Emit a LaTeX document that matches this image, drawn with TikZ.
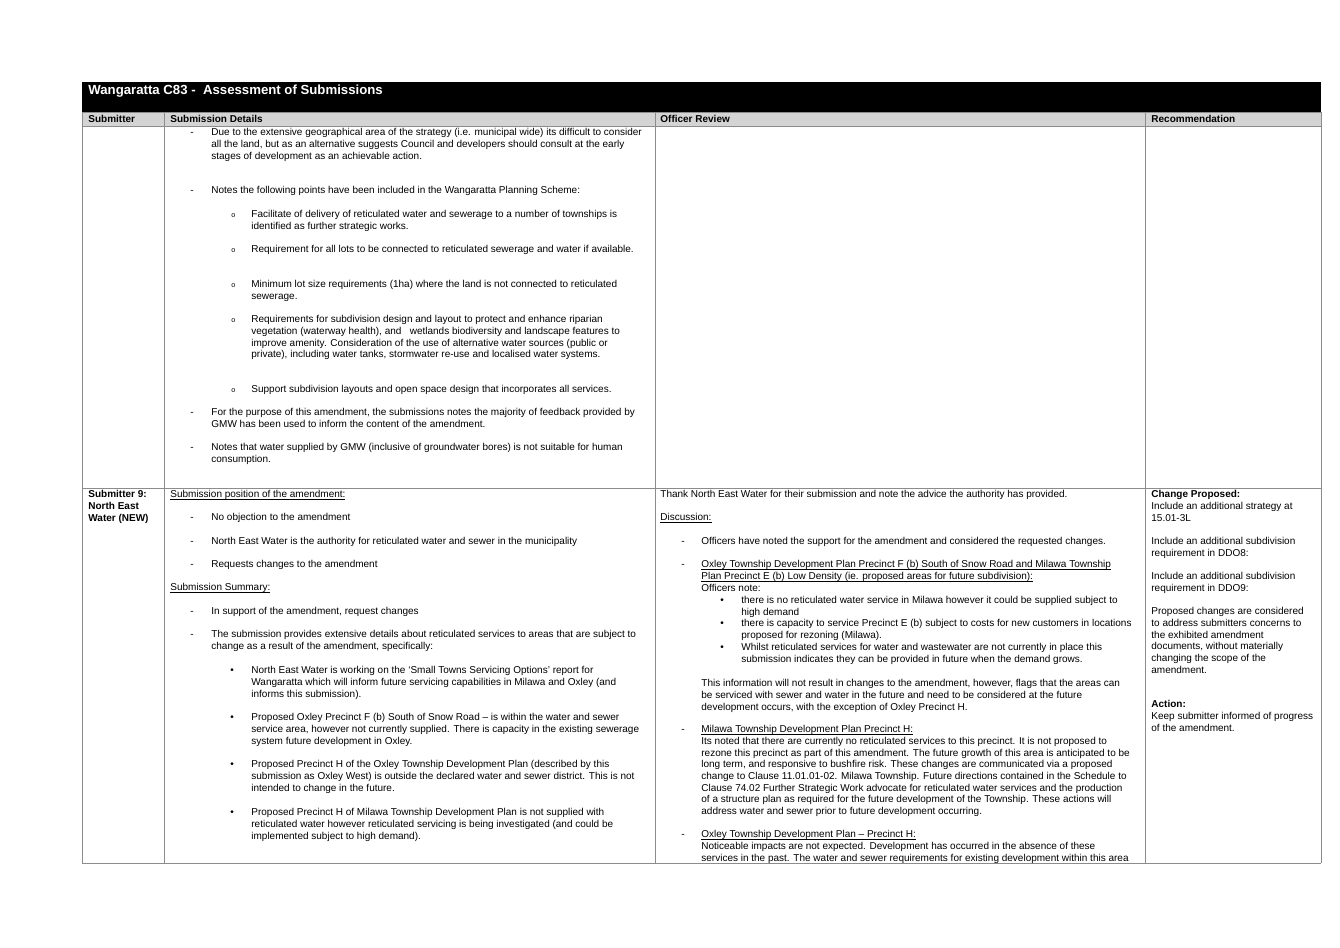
\documentclass[tikz,border=0pt]{standalone}
\usepackage{fontspec}
\setmainfont{Liberation Sans}
\usetikzlibrary{positioning}
\newcommand{\fs}{\fontsize{5.0}{5.85}\selectfont}
\newcommand{\ul}[1]{\setbox0\hbox{#1}\rlap{\rule[-0.9pt]{\wd0}{0.3pt}}\box0}
\begin{document}
\begin{tikzpicture}[x=0.5pt, y=-0.5pt,
    txt/.style={anchor=north west, inner sep=0pt, align=left, font=\fs},
    bold/.style={txt, font=\fs\bfseries},
    marker/.style={anchor=base west, inner sep=0pt, font=\fs},
    rule/.style={draw=black!45, line width=0.4pt}
]
\useasboundingbox (0,0) rectangle (1340,948);

% Title bar and column heads
\fill[black] (82,82) rectangle (1321,112);
\node[txt, font=\fontsize{6.6}{8}\selectfont\bfseries, text=white] (title) at (88,85) {Wangaratta C83 -\ \ Assessment of Submissions};
\fill[black!17] (82,112) rectangle (1321,126);
\node[bold] (hsub) at (88,115) {Submitter};
\node[bold] (hdet) at (170,115) {Submission Details};
\node[bold] (hrev) at (660,115) {Officer Review};
\node[bold] (hrec) at (1151,115) {Recommendation};

% Grid
\draw[rule] (82,112) -- (1321,112) (82,126) -- (1321,126) (82,488) -- (1321,488) (82,863) -- (1321,863);
\draw[rule] (82,112) -- (82,863) (164,112) -- (164,863) (655,112) -- (655,863) (1145,112) -- (1145,863) (1321,112) -- (1321,863);

% Row 1 - submission details
\foreach \yy in {128,186,408,443} \node[marker] at (190,\yy+7) {-};
\node[txt] (t1) at (211,128) {Due to the extensive geographical area of the strategy (i.e. municipal wide) its difficult to consider\\all the land, but as an alternative suggests Council and developers should consult at the early\\stages of development as an achievable action.};
\node[txt] (t2) at (211,186) {Notes the following points have been included in the Wangaratta Planning Scheme:};
\foreach \yy in {210,245,280,315,385} \node[marker, font=\fontsize{3.6}{4}\selectfont] at (231,\yy+7) {o};
\node[txt] (c1) at (251,210) {Facilitate of delivery of reticulated water and sewerage to a number of townships is\\identified as further strategic works.};
\node[txt] (c2) at (251,245) {Requirement for all lots to be connected to reticulated sewerage and water if available.};
\node[txt] (c3) at (251,280) {Minimum lot size requirements (1ha) where the land is not connected to reticulated\\sewerage.};
\node[txt] (c4) at (251,315) {Requirements for subdivision design and layout to protect and enhance riparian\\vegetation (waterway health), and \ \ wetlands biodiversity and landscape features to\\improve amenity. Consideration of the use of alternative water sources (public or\\private), including water tanks, stormwater re-use and localised water systems.};
\node[txt] (c5) at (251,385) {Support subdivision layouts and open space design that incorporates all services.};
\node[txt] (t3) at (211,408) {For the purpose of this amendment, the submissions notes the majority of feedback provided by\\GMW has been used to inform the content of the amendment.};
\node[txt] (t4) at (211,443) {Notes that water supplied by GMW (inclusive of groundwater bores) is not suitable for human\\consumption.};

% Row 2 - submitter
\node[bold] (who) at (88,490) {Submitter 9:\\North East\\Water (NEW)};

% Row 2 - submission details
\node[txt] (pos) at (170,490) {\ul{Submission position of the amendment:}};
\foreach \yy/\tt in {513/No objection to the amendment,
    537/North East Water is the authority for reticulated water and sewer in the municipality,
    560/Requests changes to the amendment,
    607/{In support of the amendment, request changes}}
  {\node[marker] at (190,\yy+7) {-}; \node[txt] at (211,\yy) {\tt};}
\node[txt] (summ) at (170,583) {\ul{Submission Summary:}};
\node[marker] at (190,637) {-};
\node[txt] (t5) at (211,630) {The submission provides extensive details about reticulated services to areas that are subject to\\change as a result of the amendment, specifically:};
\foreach \yy in {666,713,760,808} \node[marker] at (230,\yy+7) {•};
\node[txt] (b1) at (251,666) {North East Water is working on the ‘Small Towns Servicing Options’ report for\\Wangaratta which will inform future servicing capabilities in Milawa and Oxley (and\\informs this submission).};
\node[txt] (b2) at (251,713) {Proposed Oxley Precinct F (b) South of Snow Road – is within the water and sewer\\service area, however not currently supplied. There is capacity in the existing sewerage\\system future development in Oxley.};
\node[txt] (b3) at (251,760) {Proposed Precinct H of the Oxley Township Development Plan (described by this\\submission as Oxley West) is outside the declared water and sewer district. This is not\\intended to change in the future.};
\node[txt] (b4) at (251,808) {Proposed Precinct H of Milawa Township Development Plan is not supplied with\\reticulated water however reticulated servicing is being investigated (and could be\\implemented subject to high demand).};

% Row 2 - officer review
\node[txt] (thank) at (660,490) {Thank North East Water for their submission and note the advice the authority has provided.};
\node[txt] (disc) at (660,513) {\ul{Discussion:}};
\foreach \yy in {537,560,725,830} \node[marker] at (681,\yy+7) {-};
\node[txt] (r1) at (701,537) {Officers have noted the support for the amendment and considered the requested changes.};
\node[txt] (r2) at (701,560) {\ul{Oxley Township Development Plan Precinct F (b) South of Snow Road and Milawa Township}\\\ul{Plan Precinct E (b) Low Density (ie. proposed areas for future subdivision):}\\Officers note:};
\foreach \yy in {596,619,643} \node[marker] at (720,\yy+7) {•};
\node[txt] (n1) at (741,596) {there is no reticulated water service in Milawa however it could be supplied subject to\\high demand};
\node[txt] (n2) at (741,619) {there is capacity to service Precinct E (b) subject to costs for new customers in locations\\proposed for rezoning (Milawa).};
\node[txt] (n3) at (741,643) {Whilst reticulated services for water and wastewater are not currently in place this\\submission indicates they can be provided in future when the demand grows.};
\node[txt] (r3) at (701,679) {This information will not result in changes to the amendment, however, flags that the areas can\\be serviced with sewer and water in the future and need to be considered at the future\\development occurs, with the exception of Oxley Precinct H.};
\node[txt] (r4) at (701,725) {\ul{Milawa Township Development Plan Precinct H:}\\Its noted that there are currently no reticulated services to this precinct. It is not proposed to\\rezone this precinct as part of this amendment. The future growth of this area is anticipated to be\\long term, and responsive to bushfire risk. These changes are communicated via a proposed\\change to Clause 11.01.01-02. Milawa Township. Future directions contained in the Schedule to\\Clause 74.02 Further Strategic Work advocate for reticulated water services and the production\\of a structure plan as required for the future development of the Township. These actions will\\address water and sewer prior to future development occurring.};
\node[txt] (r5) at (701,830) {\ul{Oxley Township Development Plan – Precinct H:}\\Noticeable impacts are not expected. Development has occurred in the absence of these\\services in the past. The water and sewer requirements for existing development within this area};

% Row 2 - recommendation
\node[txt] (rec1) at (1151,490) {\textbf{Change Proposed:}\\Include an additional strategy at\\15.01-3L};
\node[txt] (rec2) at (1151,537) {Include an additional subdivision\\requirement in DDO8:};
\node[txt] (rec3) at (1151,572) {Include an additional subdivision\\requirement in DDO9:};
\node[txt] (rec4) at (1151,607) {Proposed changes are considered\\to address submitters concerns to\\the exhibited amendment\\documents, without materially\\changing the scope of the\\amendment.};
\node[txt] (rec5) at (1151,700) {\textbf{Action:}\\Keep submitter informed of progress\\of the amendment.};
\end{tikzpicture}
\end{document}
